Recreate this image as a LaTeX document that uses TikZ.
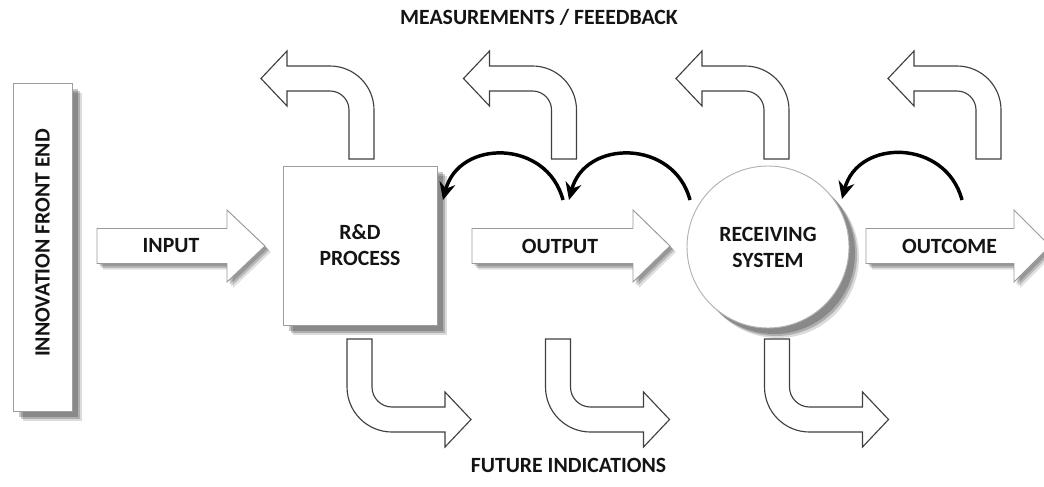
\documentclass[tikz,border=0pt]{standalone}
\usepackage{fontspec}
\setmainfont{Carlito}
\usetikzlibrary{arrows.meta,shadows}

% one unit = one pixel, y axis pointing down
\tikzset{
  x=0.75pt, y=-0.75pt,
  lbl/.style={font=\fontsize{16.3}{19.5}\selectfont\bfseries, align=center,
    text=black!92, inner sep=0pt},
  bigshadow/.style={
    drop shadow={shadow xshift=7.5pt, shadow yshift=-7.5pt, fill=black, opacity=0.14},
    drop shadow={shadow xshift=6pt, shadow yshift=-6pt, fill=black, opacity=0.2},
    drop shadow={shadow xshift=4.5pt, shadow yshift=-4.5pt, fill=black, opacity=0.22}},
  smallshadow/.style={
    drop shadow={shadow xshift=4.5pt, shadow yshift=-4.5pt, fill=black, opacity=0.12},
    drop shadow={shadow xshift=3.2pt, shadow yshift=-3.2pt, fill=black, opacity=0.18},
    drop shadow={shadow xshift=2pt, shadow yshift=-2pt, fill=black, opacity=0.18}},
  box/.style={draw=black!38, line width=0.7pt, fill=white, bigshadow, inner sep=0pt},
  circbox/.style={circle, draw=black!30, line width=0.7pt, fill=white, bigshadow,
    inner sep=0pt, minimum size=121.5pt},
  blockarrow/.style={draw=black!40, line width=0.7pt, fill=white, smallshadow},
  bendarrow/.style={draw=black!75, line width=0.85pt, fill=white, line join=miter},
  fbarrow/.style={line width=2.6pt, black, -{Stealth[length=13pt, width=12pt]}},
  % bent arrow rising from a block and turning left
  upbend/.pic={
    \path[bendarrow] (-12.5,0) -- (-12.5,-49)
      arc[start angle=0, end angle=-90, radius=19]
      -- (-74.5,-68) -- (-74.5,-53) -- (-100.5,-80.5) -- (-74.5,-108)
      -- (-74.5,-93) -- (-31.5,-93)
      arc[start angle=-90, end angle=0, radius=44]
      -- (12.5,0) -- cycle;
  },
  % bent arrow dropping from a block and turning right
  downbend/.pic={
    \path[bendarrow] (-12.5,0) -- (12.5,0) -- (12.5,48)
      arc[start angle=180, end angle=90, radius=20]
      -- (85.5,68) -- (85.5,53) -- (111.5,80.5) -- (85.5,108)
      -- (85.5,93) -- (32.5,93)
      arc[start angle=90, end angle=180, radius=45] -- cycle;
  }
}

\begin{document}
\begin{tikzpicture}
\useasboundingbox (0,0) rectangle (1044,486);
\clip (0,0) rectangle (1044,486);

% side column
\node[box, minimum width=44.25pt, minimum height=246pt] (ife) at (42.5,247) {};
\node[lbl, rotate=90] (ifet) at (42.5,243) {INNOVATION FRONT END};

% main blocks
\node[box, minimum width=115.5pt, minimum height=119.25pt, lbl, draw=black!38,
  fill=white] (rd) at (360,245.5) {R\&D\\PROCESS};
\node[circbox, lbl, draw=black!30, fill=white] (rs) at (768,247) {RECEIVING\\SYSTEM};

% block arrows along the main flow
\path[blockarrow] (97,228.5) -- (227,228.5) -- (227,210) -- (265,246) -- (227,282)
  -- (227,263.5) -- (97,263.5) -- cycle;
\node[lbl] (in) at (171,246) {INPUT};

\path[blockarrow] (472,228.5) -- (633,228.5) -- (633,210) -- (670,246) -- (633,282)
  -- (633,263.5) -- (472,263.5) -- cycle;
\node[lbl] (out) at (560,246) {OUTPUT};

\path[blockarrow] (866,228.5) -- (1014,228.5) -- (1014,210) -- (1050,246) -- (1014,282)
  -- (1014,263.5) -- (866,263.5) -- cycle;
\node[lbl] (oc) at (949.5,246) {OUTCOME};

% measurements / feedback arrows
\pic (up1) at (361.5,159) {upbend};
\pic (up2) at (564,159) {upbend};
\pic (up3) at (776.5,159) {upbend};
\pic (up4) at (988.5,159) {upbend};

% future indication arrows
\pic (dn1) at (359.5,339) {downbend};
\pic (dn2) at (558,339) {downbend};
\pic (dn3) at (777,339) {downbend};

% feedback loops
\coordinate (fb1a) at (563,200);
\coordinate (fb1b) at (443,200);
\coordinate (fb2a) at (690,200);
\coordinate (fb2b) at (569,200);
\coordinate (fb3a) at (962,200);
\coordinate (fb3b) at (842,199);
\draw[fbarrow] (fb1a) .. controls +(-16,-61) and +(16,-61) .. (fb1b);
\draw[fbarrow] (fb2a) .. controls +(-16,-61) and +(16,-61) .. (fb2b);
\draw[fbarrow] (fb3a) .. controls +(-16,-61) and +(16,-61) .. (fb3b);

% captions
\node[lbl] (fbk) at (539,17) {MEASUREMENTS / FEEEDBACK};
\node[lbl] (fut) at (568.5,465) {FUTURE INDICATIONS};
\end{tikzpicture}
\end{document}
